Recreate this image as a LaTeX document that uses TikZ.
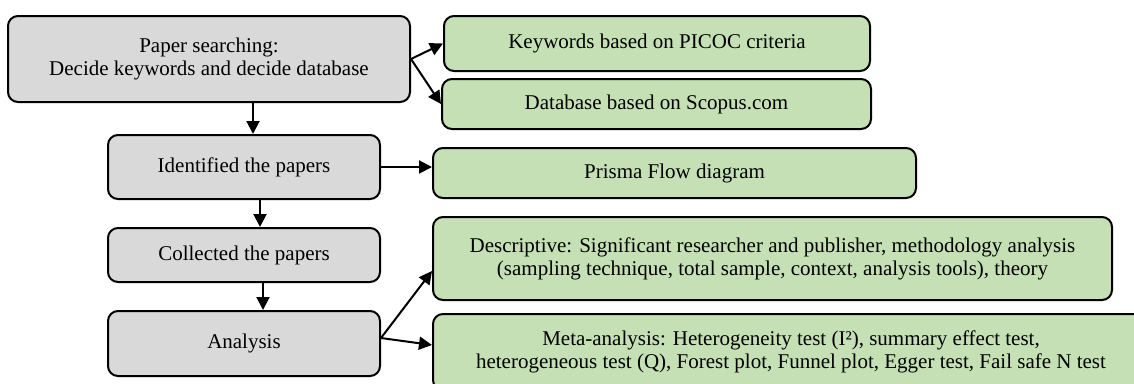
\documentclass[tikz,border=0pt]{standalone}
\usepackage{fontspec}
\setmainfont{Liberation Serif}
\usetikzlibrary{arrows.meta}
\definecolor{hopxam}{HTML}{D9D9D9}
\definecolor{hopxanh}{HTML}{C5E0B4}
\begin{document}
\begin{tikzpicture}[line join = round, line cap = round,>={Triangle[length=13pt,width=13pt]},x=1pt,y=-1pt]
			\tikzset{hop/.style={draw,line width=2pt,rounded corners=10pt,inner sep=0pt,align=center,
					font=\fontsize{21}{23}\selectfont},
				hop-xam/.style={hop,fill=hopxam},
				hop-xanh/.style={hop,fill=hopxanh},
				mui-ten/.style={->,line width=2pt}}
			\useasboundingbox (0,0) rectangle (1134,383);
			% cot trai
			\node[hop-xam,minimum width=402pt,minimum height=86pt] (timbai) at (209,59) {Paper searching:\\Decide keywords and decide database};
			\node[hop-xam,minimum width=272pt,minimum height=64pt] (xacdinh) at (244,167) {Identified the papers};
			\node[hop-xam,minimum width=272pt,minimum height=54pt] (thuthap) at (244,255) {Collected the papers};
			\node[hop-xam,minimum width=272pt,minimum height=65pt] (phantich) at (244,343.5) {Analysis};
			% cot phai
			\node[hop-xanh,minimum width=426pt,minimum height=55pt] (tukhoa) at (657,43.5) {Keywords based on PICOC criteria};
			\node[hop-xanh,minimum width=429pt,minimum height=50pt] (csdl) at (656.5,104) {Database based on Scopus.com};
			\node[hop-xanh,minimum width=483pt,minimum height=50pt] (prisma) at (674.5,173) {Prisma Flow diagram};
			\node[hop-xanh,minimum width=679pt,minimum height=83pt] (mota) at (772.5,258.5) {Descriptive: Significant researcher and publisher, methodology analysis\\(sampling technique, total sample, context, analysis tools), theory};
			\node[hop-xanh,minimum width=716pt,minimum height=76pt] (meta) at (791,352) {Meta-analysis: Heterogeneity test (I²), summary effect test,\\heterogeneous test (Q), Forest plot, Funnel plot, Egger test, Fail safe N test};
			% mui ten
			\draw[mui-ten] ([xshift=9pt]timbai.south -| xacdinh.north) -- ([xshift=9pt]xacdinh.north);
			\draw[mui-ten] ([xshift=16pt]xacdinh.south) -- ([xshift=16pt]thuthap.north);
			\draw[mui-ten] ([xshift=19pt]thuthap.south) -- ([xshift=19pt]phantich.north);
			\draw[mui-ten] (timbai.east) -- (tukhoa.west);
			\draw[mui-ten] (timbai.east) -- (csdl.west);
			\draw[mui-ten] (xacdinh.east) -- (xacdinh.east -| prisma.west);
			\draw[mui-ten] ([yshift=5.5pt]phantich.east) -- ([yshift=-12.5pt]mota.west);
			\draw[mui-ten] ([yshift=5.5pt]phantich.east) -- ([yshift=7pt]meta.west);
		\end{tikzpicture}
\end{document}
